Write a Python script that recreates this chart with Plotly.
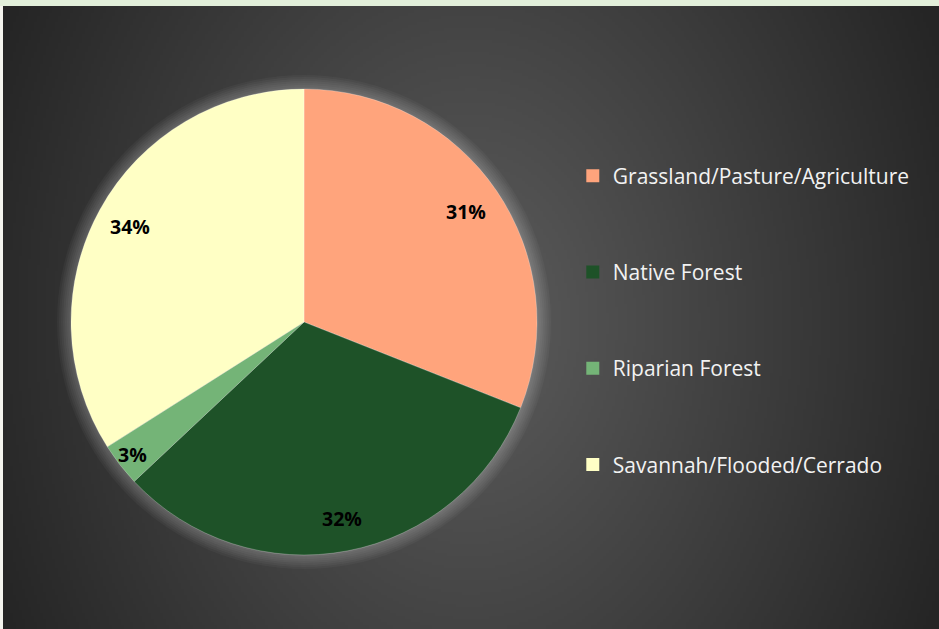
import base64
import struct
import zlib
import math
import numpy as np
import plotly.graph_objects as go

labels = ['Grassland/Pasture/Agriculture', 'Native Forest', 'Riparian Forest', 'Savannah/Flooded/Cerrado']
values = [31, 32, 3, 34]
colors = ['#FFA47C', '#1E5228', '#74B477', '#FFFFC5']
label_radius = [0.84, 0.86, 0.93, 0.85]  # where Excel put each % label, as fraction of pie radius

W, H = 939, 629
CX, CY, R = 304, 322, 233  # pie centre / radius in pixels


def png_uri(arr):
    h, w = arr.shape
    raw = b''.join(b'\x00' + arr[i].tobytes() for i in range(h))

    def chunk(t, d):
        c = struct.pack('>I', len(d)) + t + d
        return c + struct.pack('>I', zlib.crc32(t + d) & 0xffffffff)
    png = (b'\x89PNG\r\n\x1a\n' + chunk(b'IHDR', struct.pack('>IIBBBBB', w, h, 8, 0, 0, 0, 0))
           + chunk(b'IDAT', zlib.compress(raw, 9)) + chunk(b'IEND', b''))
    return 'data:image/png;base64,' + base64.b64encode(png).decode()


# radial grey background (chart area fill)
s = 3
yy, xx = np.mgrid[0:H // s + 1, 0:W // s + 1] * s
d = np.sqrt((xx - 470) ** 2 + (0.75 * (yy - 322)) ** 2)
bg = np.clip(93 - 0.1077 * d, 37, 255).astype(np.uint8)

px = lambda x: x / W
py = lambda y: 1 - y / H

fig = go.Figure()
fig.add_trace(go.Pie(labels=labels, values=values, sort=False, direction='clockwise', rotation=0,
                     marker=dict(colors=colors, line=dict(color='rgba(255,255,255,0.25)', width=1)),
                     textinfo='none', hoverinfo='label+percent', showlegend=False,
                     domain=dict(x=[px(CX - R), px(CX + R)], y=[py(CY + R), py(CY - R)])))

# legend entries
for i, (lab, col) in enumerate(zip(labels, colors)):
    fig.add_trace(go.Scatter(x=[None], y=[None], mode='markers', name=lab, legendgroup=str(i),
                             marker=dict(symbol='square', size=13, color=col)))

# percentage labels
total = sum(values)
annotations = []
cum = 0
for v, rf in zip(values, label_radius):
    mid = (cum + v / 2) / total * 2 * math.pi
    cum += v
    x = CX + math.sin(mid) * R * rf
    y = CY - math.cos(mid) * R * rf
    annotations.append(dict(x=px(x), y=py(y), xref='paper', yref='paper', showarrow=False,
                            xanchor='center', yanchor='middle',
                            text='<b>%d%%</b>' % round(v / total * 100),
                            font=dict(family='Open Sans', size=19.5, color='black')))

# soft glow around the pie
shapes = []
for k in range(1, 8):
    rr = R + 2 * k
    shapes.append(dict(type='circle', xref='paper', yref='paper', layer='below',
                       x0=px(CX - rr), x1=px(CX + rr), y0=py(CY + rr), y1=py(CY - rr),
                       fillcolor='rgba(255,255,255,0.035)', line=dict(width=0)))
shapes.append(dict(type='rect', xref='paper', yref='paper', x0=0, x1=1, y0=py(6), y1=1,
                   fillcolor='#E2EFDA', line=dict(width=0)))
shapes.append(dict(type='rect', xref='paper', yref='paper', x0=0, x1=px(3), y0=0, y1=py(6),
                   fillcolor='#F4F4EE', line=dict(width=0)))

fig.update_layout(
    width=W, height=H, margin=dict(l=0, r=0, t=0, b=0),
    paper_bgcolor='#333333', plot_bgcolor='rgba(0,0,0,0)',
    xaxis=dict(visible=False), yaxis=dict(visible=False),
    images=[dict(source=png_uri(bg), xref='paper', yref='paper', x=0, y=1, sizex=1, sizey=1,
                 xanchor='left', yanchor='top', sizing='stretch', layer='below')],
    shapes=shapes, annotations=annotations,
    legend=dict(x=0.61, xanchor='left', y=py(320.5), yanchor='middle', tracegroupgap=66,
                traceorder='grouped', bgcolor='rgba(0,0,0,0)',
                font=dict(family='Open Sans', size=21, color='#F2F2F2')),
)

fig.write_html("out.html", config={'displayModeBar': False},
               post_script="document.body.style.margin='0';document.body.style.overflow='hidden';")
